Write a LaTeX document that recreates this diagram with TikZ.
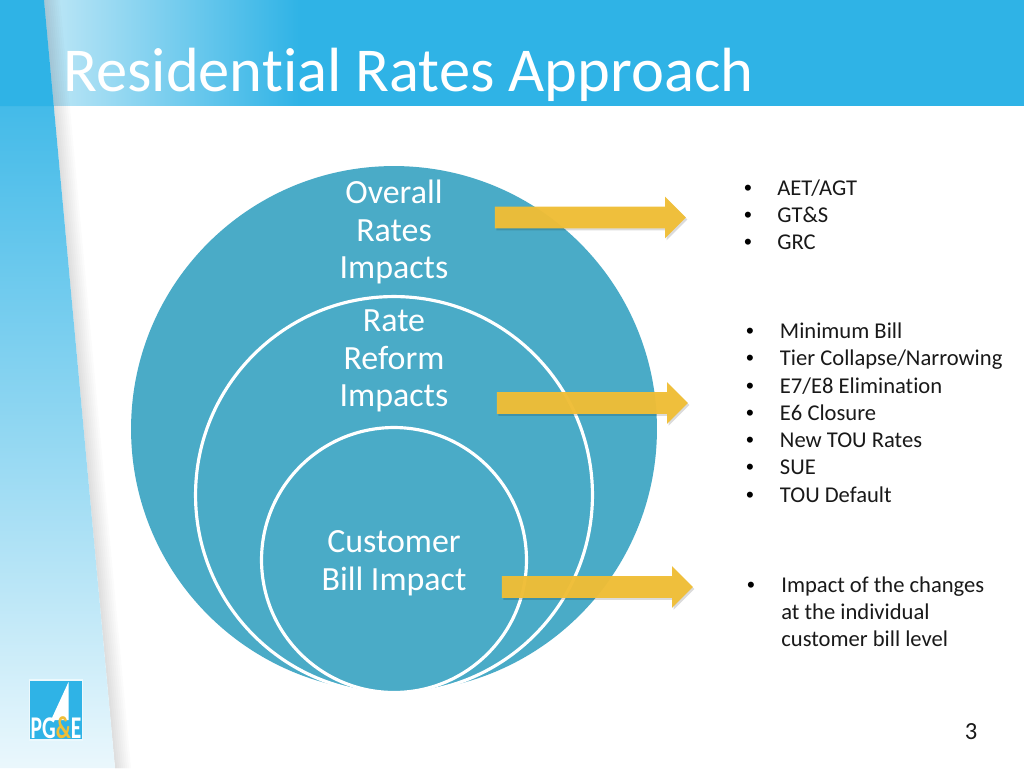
\documentclass[tikz,border=0pt]{standalone}
\usepackage{fontspec}
\setmainfont[Ligatures=NoCommon]{Carlito}
\newfontfamily\dotfont{Liberation Sans}
\usetikzlibrary{shapes.arrows, shadows, calc}
\definecolor{pgeblue}{HTML}{2FB3E6}
\definecolor{pgepale}{HTML}{BFE7F6}
\definecolor{ringblue}{HTML}{4AABC7}
\definecolor{arrowgold}{HTML}{F0BE36}
\tikzset{
	ringnode/.style = {circle, inner sep = 0pt, fill = ringblue},
	innerring/.style = {ringnode, draw = white, line width = 1.8pt},
	ringlabel/.style = {align = center, text = white, font = \fontsize{19.3}{21.5}\selectfont},
	goldarrow/.style = {single arrow, fill = arrowgold, fill opacity = 0.96, inner xsep = 0pt, inner ysep = 0.21cm,
		minimum width = 0.82cm, single arrow head extend = 0.2cm,
		single arrow head indent = 0cm, minimum height = 3.82cm,
		drop shadow = {shadow xshift = 0.03cm, shadow yshift = -0.04cm, fill = black, opacity = 0.14}},
	bulletdot/.style = {anchor = base, font = \dotfont\fontsize{12.6}{15}\selectfont, text = black},
	bullettext/.style = {anchor = base west, inner sep = 0pt, font = \fontsize{12.85}{15}\selectfont, text = black!90}
}
\begin{document}
\begin{tikzpicture}[x = 0.02cm, y = -0.02cm]
	\useasboundingbox (0,0) rectangle (1024,768);
	\fill[white] (0,0) rectangle (1024,768);

	% header band
	\fill[pgeblue] (290,0) rectangle (1024,106);
	\shade[left color = pgepale, right color = pgeblue] (44,0) rectangle (300,105.8);

	% shadow of the strip on the page
	\foreach \d in {2,4,...,16} {
		\fill[black, opacity = 0.014] (44,0) -- (44+\d,0) -- (115+\d,768) -- (115,768) -- cycle;
	}

	% left strip
	\shade[top color = pgeblue!90!white, bottom color = white!90!pgeblue, middle color = pgeblue!52!white]
		(0,106) -- (53.8,106) -- (115,768) -- (0,768) -- cycle;
	\fill[pgeblue] (0,0) -- (44,0) -- (53.8,106) -- (0,106) -- cycle;

	\node[anchor = base west, inner sep = 0pt, text = white, font = \fontsize{35.55}{40}\selectfont] (title) at (63,91) {Residential Rates Approach};

	% circles
	\node[ringnode, minimum size = 10.52cm] (overall) at (394,429) {};
	\node[innerring, minimum size = 7.94cm] (reform) at (394,495) {};
	\node[innerring, minimum size = 5.3cm] (customer) at (394,560) {};

	\node[ringlabel] (overalltext) at (394,232) {Overall\\Rates\\Impacts};
	\node[ringlabel] (reformtext) at (394,361) {Rate\\Reform\\Impacts};
	\node[ringlabel] (customertext) at (394,563) {Customer\\Bill Impact};

	% arrows
	\node[goldarrow] (arrowa) at (585,217.5) {};
	\node[goldarrow] (arrowb) at (587,403) {};
	\node[goldarrow] (arrowc) at (592,587) {};

	% lists
	\foreach \txt [count = \i] in {AET/AGT, GT\&S, GRC} {
		\node[bulletdot] (dota\i) at (748,195+27*\i-27) {•};
		\node[bullettext] (lista\i) at (777,195+27*\i-27) {\txt};
	}
	\foreach \txt [count = \i] in {Minimum Bill, Tier Collapse/Narrowing, E7/E8 Elimination, E6 Closure, New TOU Rates, SUE, TOU Default} {
		\node[bulletdot] (dotb\i) at (750,338.4+27.3*\i-27.3) {•};
		\node[bullettext] (listb\i) at (779.6,338.4+27.3*\i-27.3) {\txt};
	}
	\node[bulletdot] (dotc1) at (751,592) {•};
	\foreach \txt [count = \i] in {Impact of the changes, at the individual, customer bill level} {
		\node[bullettext] (listc\i) at (781,592+27.3*\i-27.3) {\txt};
	}

	% logo
	\node[fill = white!70!pgepale, minimum width = 1.1cm, minimum height = 1.24cm, inner sep = 0pt] (logoback) at (56,709.5) {};
	\fill[pgeblue] (30,680.5) rectangle (82,738.5);
	\fill[white] (68.5,682) -- (68.5,720) -- (51,720) -- cycle;
	\node[anchor = base, inner sep = 0pt, text = white, font = \bfseries\fontsize{18}{18}\selectfont, xscale = 0.68] (logotext) at (56,738.5) {PG\textcolor{arrowgold}{\&}E};

	\node[anchor = base, inner sep = 0pt, text = black!90, font = \fontsize{14}{16}\selectfont] (pagenum) at (971,739) {3};
\end{tikzpicture}
\end{document}
